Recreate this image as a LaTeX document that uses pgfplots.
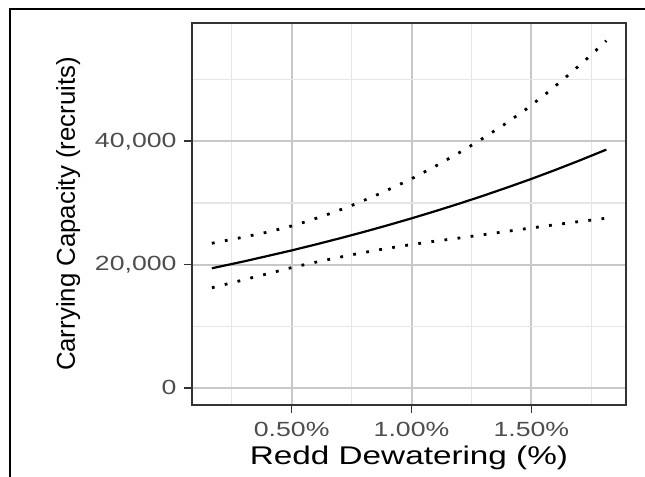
\documentclass[border=0pt]{standalone}
\usepackage{fontspec}
\setmainfont{Liberation Sans}[FakeStretch=1.3]
\newfontfamily\ylabfont{Liberation Sans}
\usepackage{pgfplots}
\pgfplotsset{compat=1.18}
\definecolor{tickgray}{HTML}{4D4D4D}
\definecolor{bordergray}{HTML}{333333}
\definecolor{majgrid}{HTML}{C8C8C8}
\definecolor{mingrid}{HTML}{E6E6E6}
\begin{document}
\begin{tikzpicture}[x=1bp,y=1bp]
\useasboundingbox (0,0) rectangle (645,477);
\begin{axis}[
  at={(192bp,72bp)}, anchor=south west,
  scale only axis, width=434bp, height=382bp,
  xmin=0.084, xmax=1.895, ymin=-2800, ymax=59200,
  scaled y ticks=false, scaled x ticks=false,
  xtick={0.5,1,1.5}, xticklabels={0.50\%,1.00\%,1.50\%},
  ytick={0,20000,40000}, yticklabels={0,{20,000},{40,000}},
  minor xtick={0.25,0.75,1.25,1.75}, minor ytick={10000,30000,50000},
  minor tick length=0pt, major tick length=8bp,
  tick align=outside, tick pos=left,
  grid=both,
  major grid style={draw=majgrid, line width=2bp},
  minor grid style={draw=mingrid, line width=1.2bp},
  axis line style={draw=bordergray, line width=1.2bp},
  major tick style={draw=bordergray, line width=1.6bp},
  ticklabel style={text=tickgray, font=\fontsize{20.5bp}{21bp}\selectfont},
  xticklabel style={yshift=-6bp},
  yticklabel style={xshift=-4bp},
  xlabel={Redd Dewatering (\%)},
  ylabel={Carrying Capacity (recruits)},
  xlabel style={font=\fontsize{25.6bp}{26bp}\selectfont, at={(axis description cs:0.5,-0.157)}, anchor=base},
  ylabel style={font=\ylabfont\fontsize{25.8bp}{26bp}\selectfont, at={(axis description cs:-0.27,0.5)}, anchor=base},
]
% estimate (solid)
\addplot[black, line width=2.2bp] coordinates {
(0.167,19390) (0.3,20500) (0.4,21390) (0.5,22290) (0.6,23250) (0.7,24245)
(0.8,25280) (0.9,26365) (1.0,27490) (1.1,28670) (1.2,29895) (1.3,31175)
(1.4,32510) (1.5,33890) (1.6,35350) (1.7,36865) (1.813,38650)};
% upper bound (dotted)
\addplot[black, line width=2.8bp, line cap=butt, dash pattern=on 2.8bp off 10.4bp] coordinates {
(0.167,23450) (0.29,24380) (0.405,25300) (0.518,26440) (0.63,27850) (0.738,29380)
(0.844,31100) (0.948,32950) (1.0,33920) (1.097,35900) (1.197,38100) (1.289,40260)
(1.383,42620) (1.473,45060) (1.556,47560) (1.638,50200) (1.72,52980) (1.798,55770) (1.813,56330)};
% lower bound (dotted)
\addplot[black, line width=2.8bp, line cap=butt, dash pattern=on 2.8bp off 10.4bp] coordinates {
(0.167,16230) (0.287,17390) (0.401,18520) (0.514,19640) (0.63,20630) (0.745,21540)
(0.862,22380) (0.981,23130) (1.1,23800) (1.218,24400) (1.337,25040) (1.454,25690)
(1.572,26320) (1.69,26920) (1.813,27520)};
\end{axis}
\draw[black, line width=2.2bp] (10,-10) -- (10,468) -- (660,468);
\end{tikzpicture}
\end{document}
